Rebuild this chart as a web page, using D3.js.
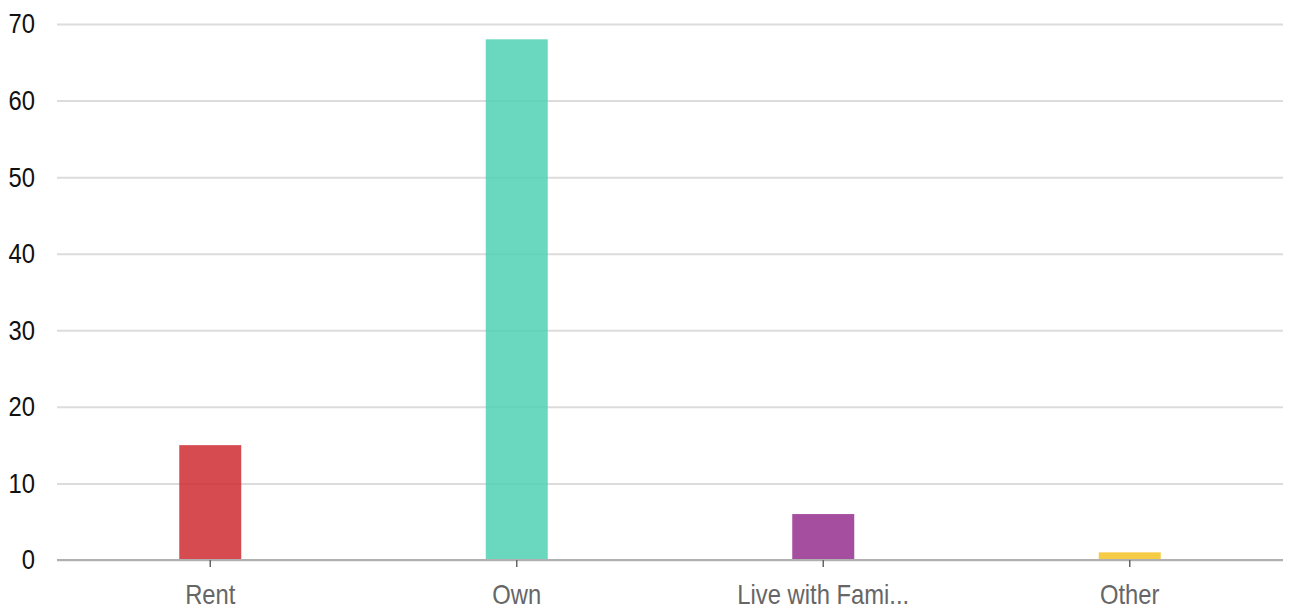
<!DOCTYPE html>
<html><head><meta charset="utf-8">
<script src="https://cdn.jsdelivr.net/npm/d3@7"></script>
<style>body{margin:0;background:#fff}svg{display:block}</style>
</head><body><svg id="c" width="1289" height="610"></svg>
<script>
const categories = ["Rent", "Own", "Live with Fami...", "Other"];
const values = [15, 68, 6, 1];
const colors = ["#cf2b30", "#50d1b4", "#952f8f", "#f4c224"];
const yTicks = [0, 10, 20, 30, 40, 50, 60, 70];

const svg = d3.select("#c");
const m = {left: 57, right: 6, top: 24, bottom: 50};
const W = 1289, H = 610;
const x = d3.scaleBand().domain(categories).range([m.left, W - m.right]).padding(0);
const y = d3.scaleLinear().domain([0, 70]).range([560, 24]);
const font = "'Liberation Sans', Arial, sans-serif";
const sx = 0.85;

// grid
const gy = svg.append("g").attr("transform", `translate(${m.left},0)`)
  .call(d3.axisLeft(y).tickValues(yTicks).tickSize(-(W - m.right - m.left)).tickPadding(20).tickFormat(d3.format("d")));
gy.select(".domain").remove();
gy.selectAll(".tick line").attr("stroke", "#dcdcdc").attr("stroke-width", 2);
gy.selectAll(".tick text").attr("fill", "#111").style("font-family", font).style("font-size", "28px")
  .attr("x", 0).attr("transform", `translate(-22,0) scale(${sx},1)`);

// bars
const bw = 62;
svg.append("g").selectAll("rect").data(values).join("rect")
  .attr("x", (d, i) => x(categories[i]) + x.bandwidth() / 2 - bw / 2)
  .attr("width", bw)
  .attr("y", d => y(d))
  .attr("height", d => y(0) - y(d))
  .attr("fill", (d, i) => colors[i])
  .attr("fill-opacity", 0.85);

// baseline + x axis
const gx = svg.append("g").attr("transform", `translate(0,${y(0)})`)
  .call(d3.axisBottom(x).tickSize(7).tickPadding(17));
gx.select(".domain").attr("stroke", "#b0b0b0").attr("stroke-width", 2).attr("d", `M${m.left},0H${W - m.right}`);
gx.selectAll(".tick line").attr("stroke", "#666").attr("stroke-width", 1.5);
gx.selectAll(".tick text").attr("fill", "#666").style("font-family", font).style("font-size", "28px")
  .attr("transform", `scale(${sx},1)`);
</script></body></html>
